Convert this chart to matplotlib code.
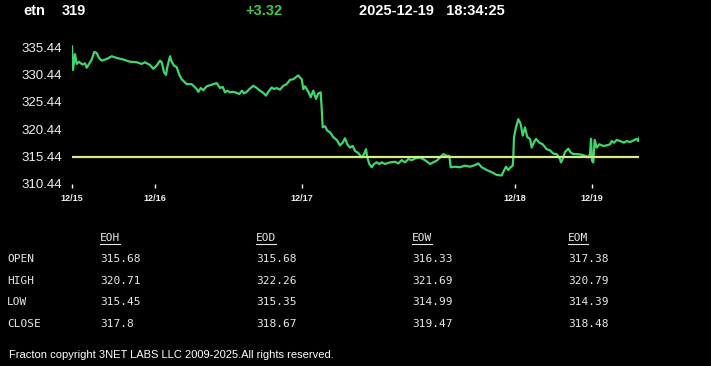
import matplotlib
matplotlib.use("Agg")
import matplotlib.pyplot as plt
from matplotlib.lines import Line2D

# ---------- donnees ----------
symbol = "etn"
last_price = "319"
change = "+3.32"
stamp = "2025-12-19   18:34:25"

# position de l'echantillon (axe x non lineaire en temps) et prix
t = [0, 1, 3, 4.7, 7, 10.3, 13, 14.7, 17.3, 19.7,
     22.3, 24.7, 27.3, 29.7, 34.7, 39.7, 44.7, 51.3, 58, 64.7,
     69.7, 73, 78, 81.3, 84.7, 88, 89.7, 92, 94, 95.3,
     98, 99.7, 102, 104.7, 107.3, 109.7, 113, 114.7, 119.7, 122,
     124.7, 126.3, 128.7, 131.3, 134.7, 139.7, 144.7, 148, 150.7, 153,
     155.3, 158, 161.3, 164.7, 167.3, 170, 172, 174.7, 178, 181.3,
     184.7, 188, 191.3, 194, 196.3, 199.7, 202, 204.7, 208, 211.3,
     214.7, 218, 221.3, 224.7, 226.3, 228, 229.7, 231.3, 233, 236.3,
     238.7, 241.3, 244, 246.3, 248.7, 249.7, 250.7, 253, 255.3, 258,
     261.3, 264.7, 268, 270.7, 273, 275.3, 278, 280.7, 283, 286.3,
     289.7, 292, 294, 295.3, 297.3, 299.7, 302, 304.7, 307.3, 309.7,
     313, 318, 323, 326.3, 329.7, 333, 336.3, 339.7, 343, 348,
     353, 358, 361.3, 364.7, 368, 371.3, 374.7, 377.3, 378.7, 383,
     388, 393, 398, 403, 406.3, 409.7, 414.7, 419.7, 424.7, 429.7,
     432, 434, 436.3, 438, 440.7, 441.3, 442, 444, 446.3, 448.7,
     450.7, 453, 455.3, 458, 459.7, 461.3, 464, 467.3, 470.7, 474.7,
     478, 481.3, 484.7, 487.3, 489, 490.7, 493, 496.3, 498.7, 501.3,
     505.3, 509.7, 513, 516.3, 518, 519, 520, 521.3, 522.7, 524.7,
     527.3, 531.3, 534.7, 538, 539.7, 542, 544.7, 548, 552, 554.7,
     558, 561.3, 564.7, 566.3, 567.3]
price = [335.6, 331.3, 334.2, 332.4, 332.8, 332.3, 332.5, 331.7, 332.5, 333.2,
         334.6, 334.4, 333.4, 333.0, 333.3, 333.8, 333.5, 333.2, 332.8, 332.7,
         332.4, 332.7, 332.2, 331.5, 332.1, 333.0, 332.7, 330.9, 330.4, 331.8,
         333.8, 332.8, 332.1, 331.8, 330.4, 329.6, 329.0, 328.7, 328.7, 328.3,
         327.8, 327.3, 328.0, 327.6, 328.3, 328.6, 328.9, 328.0, 328.2, 327.2,
         327.5, 327.2, 327.3, 327.1, 326.9, 327.5, 327.0, 327.3, 327.9, 328.4,
         328.0, 327.5, 327.1, 326.6, 327.3, 328.1, 327.8, 328.0, 327.7, 328.4,
         328.7, 329.5, 329.6, 330.1, 330.3, 329.9, 329.6, 327.8, 328.3, 327.3,
         326.3, 327.5, 326.0, 327.0, 327.2, 324.2, 320.8, 321.0, 320.2, 319.9,
         319.0, 318.5, 317.5, 318.0, 318.8, 317.7, 317.1, 317.4, 316.5, 316.1,
         315.3, 315.9, 316.8, 315.3, 314.1, 313.5, 314.1, 314.4, 314.1, 314.4,
         314.1, 314.4, 314.5, 314.2, 314.8, 314.4, 315.0, 314.8, 315.1, 315.3,
         314.8, 314.1, 314.4, 314.7, 315.3, 315.9, 315.6, 315.6, 313.5, 313.6,
         313.5, 313.8, 313.6, 313.9, 314.2, 313.5, 313.0, 312.6, 312.1, 312.0,
         312.9, 313.6, 313.0, 313.4, 313.8, 315.3, 319.0, 320.8, 322.3, 321.4,
         319.3, 320.8, 319.0, 318.7, 317.1, 317.8, 318.7, 318.0, 317.7, 316.8,
         316.6, 316.0, 315.9, 315.3, 314.4, 315.0, 316.3, 316.9, 316.2, 315.9,
         315.9, 315.8, 315.6, 315.3, 315.9, 318.7, 314.7, 314.4, 318.5, 317.1,
         317.7, 317.4, 317.5, 317.7, 318.3, 318.0, 318.5, 318.3, 318.0, 318.3,
         318.1, 318.4, 318.7, 318.3, 318.9]

base = 315.44
y_ticks = [310.44, 315.44, 320.44, 325.44, 330.44, 335.44]
day_pos = [0, 83, 229.5, 442.5, 519.5]
day_labels = ["12/15", "12/16", "12/17", "12/18", "12/19"]

col_names = ["EOH", "EOD", "EOW", "EOM"]
row_names = ["OPEN", "HIGH", "LOW", "CLOSE"]
table_vals = [["315.68", "315.68", "316.33", "317.38"],
              ["320.71", "322.26", "321.69", "320.79"],
              ["315.45", "315.35", "314.99", "314.39"],
              ["317.8", "318.67", "319.47", "318.48"]]
footer = "Fracton copyright 3NET LABS LLC 2009-2025.All rights reserved."

# ---------- figure ----------
W, H = 711, 366
fig = plt.figure(figsize=(W / 100, H / 100), dpi=100, facecolor="black")

def fx(px):
    return px / W

def fy(py):
    return 1 - py / H

ax = fig.add_axes([fx(72), fy(184), fx(567.3), (184 - 41.5) / H])
ax.set_facecolor("black")
ax.plot(t, price, color="#3fd66e", lw=1.6, solid_joinstyle="round")
ax.axhline(base, color="#d4ec8c", lw=1.6)
ax.set_xlim(t[0], t[-1])
ax.set_ylim(310.44, 336.5)
for s in ax.spines.values():
    s.set_visible(False)
ax.set_yticks(y_ticks)
ax.set_yticklabels(["%.2f" % v for v in y_ticks])
ax.tick_params(axis="y", length=0, pad=7.5, labelcolor="#f0f0f0", labelsize=9.5)
ax.set_xticks(day_pos)
ax.set_xticklabels(day_labels)
ax.tick_params(axis="x", length=3, width=1, color="white", pad=4,
               labelcolor="#f0f0f0", labelsize=6.5)
for lab in ax.get_xticklabels():
    lab.set_fontweight("bold")
for lab in ax.get_yticklabels() + ax.get_xticklabels():
    lab.set_family("Liberation Sans")

# ---------- entete ----------
hdr = dict(fontsize=10.5, fontweight="bold", va="center", family="Liberation Sans")
fig.text(fx(23), fy(11), symbol, color="white", **hdr)
fig.text(fx(62), fy(11), last_price, color="white", **hdr)
fig.text(fx(245), fy(11), change, color="#3cc84a", **hdr)
fig.text(fx(359), fy(11), stamp, color="white", **hdr)

# ---------- tableau ----------
mono = dict(fontsize=8, family="DejaVu Sans Mono", color="#e8e8e8", va="center")
col_x = [100, 256, 412, 568]
row_y = [259, 280.5, 302, 324]
fig.canvas.draw()
rend = fig.canvas.get_renderer()
for cx, name in zip(col_x, col_names):
    txt = fig.text(fx(cx), fy(238), name, **mono)
    bb = txt.get_window_extent(rend)
    fig.add_artist(Line2D([bb.x0 / W, bb.x1 / W], [fy(244), fy(244)],
                          color="#e8e8e8", lw=0.8))
for ry, rname, vals in zip(row_y, row_names, table_vals):
    fig.text(fx(7), fy(ry), rname, **mono)
    for cx, v in zip(col_x, vals):
        fig.text(fx(cx), fy(ry), v, **mono)

fig.text(fx(9), fy(355), footer, color="white", fontsize=8, va="center",
         family="Liberation Sans")

fig.savefig("out.png", dpi=100, facecolor="black")
